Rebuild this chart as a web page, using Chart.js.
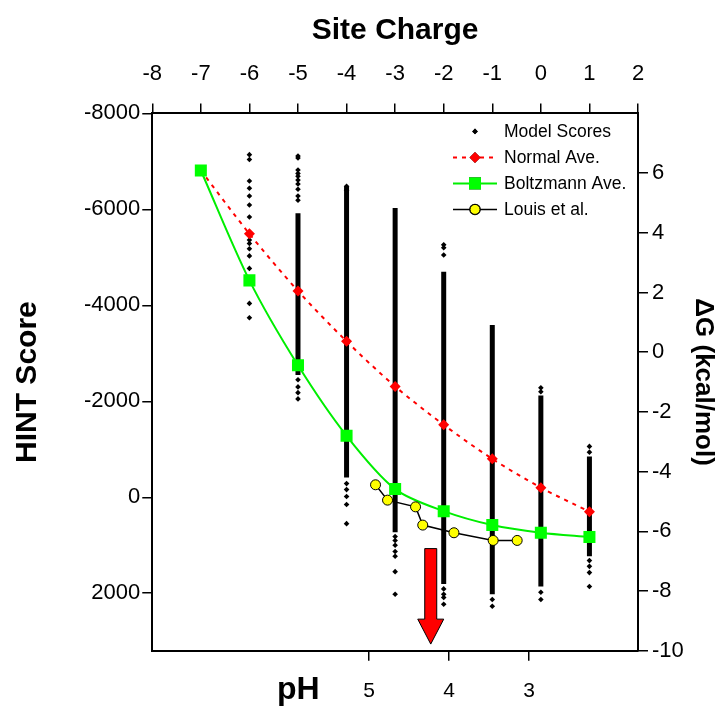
<!DOCTYPE html>
<html>
<head>
<meta charset="utf-8">
<script src="https://cdn.jsdelivr.net/npm/chart.js@4/dist/chart.umd.min.js"></script>
<style>
  html, body { margin: 0; padding: 0; background: #fff; }
  #wrap { width: 728px; height: 707px; }
</style>
</head>
<body>
<div id="wrap"><canvas id="chart" width="728" height="707"></canvas></div>
<script>
// site charge of each column
const charges = [-7, -6, -5, -4, -3, -2, -1, 0, 1];
const normalAve = [-6810, -5490, -4300, -3250, -2310, -1510, -800, -200, 300];
const boltzmannAve = [-6810, -4520, -2750, -1280, -170, 290, 580, 740, 830];

// Louis et al. (on the pH axis)
const louisPH = [4.92, 4.77, 4.42, 4.33, 3.94, 3.45, 3.15];
const louisScore = [-260, 60, 200, 580, 740, 900, 900];

// model scores: solid part of each column (top, bottom) ...
const denseTop = [null, null, -5920, -6480, -6030, -4700, -3590, -2120, -850];
const denseBottom = [null, null, -2550, -410, 730, 1810, 2020, 1860, 1230];
// ... and the single points around it
const sparseScores = [
  [-6810],
  [-7140, -7040, -6590, -6440, -6280, -6090, -5840, -5490, -5360, -5290, -5180, -5030, -4770, -4530, -4040, -3740],
  [-7110, -7070, -6820, -6750, -6690, -6610, -6530, -6420, -6280, -6190, -2450, -2300, -2180, -2050],
  [-6480, -6400, -285, -160, -15, 150, 550],
  [820, 900, 1000, 1130, 1230, 1550, 2020],
  [-5260, -5200, -5050, 1910, 2020, 2090, 2230],
  [2130, 2270],
  [-2280, -2200, 1980, 2130],
  [-1060, -940, 1320, 1440, 1570, 1860]
];

// axes
const chargeTicks = [-8, -7, -6, -5, -4, -3, -2, -1, 0, 1, 2];
const hintTicks = [-8000, -6000, -4000, -2000, 0, 2000];
const dgTicks = [-10, -8, -6, -4, -2, 0, 2, 4, 6];
const phTicks = [5, 4, 3];
const phRange = [1.64, 7.71];

// red arrow: pH position and HINT score of tail, head start and tip
const arrowPH = 4.23;
const arrowScores = [1070, 2540, 3060];

const FONT = "'Liberation Sans', Arial, Helvetica, sans-serif";
Chart.defaults.font.family = FONT;
Chart.defaults.color = "#000";

const pts = (xs, ys) => xs.map((x, i) => ({ x, y: ys[i] }));

function modelPoints(){
    const out = [];
    charges.forEach((c, i) => sparseScores[i].forEach(v => out.push({ x: c, y: v })));
    return out;
}
function denseSegments(){
    const out = [];
    charges.forEach((c, i) => {
        if(denseTop[i] === null) return;
        out.push({ x: c, y: denseTop[i] }, { x: c, y: denseBottom[i] }, { x: c, y: null });
    });
    return out;
}

const fixTicks = (list) => (ax) => { ax.ticks = list.map(v => ({ value: v })); };

function axisGrid(){
    return { drawOnChartArea: false, color: "#000", tickLength: 10, tickWidth: 1.5, lineWidth: 1.5 };
}
const axisBorder = { display: true, color: "#000", width: 2 };

/* ---- legend drawn inside the plot ---- */
const insideLegend = {
    id: "insideLegend",
    afterDraw(chart){
        const { ctx, chartArea: a } = chart;
        const rows = [
            { text: "Model Scores", ds: 3, line: false },
            { text: "Normal Ave.", ds: 2, line: true },
            { text: "Boltzmann Ave.", ds: 1, line: true },
            { text: "Louis et al.", ds: 0, line: true }
        ];
        ctx.save();
        rows.forEach((r, i) => {
            const d = chart.data.datasets[r.ds];
            const y = a.top + 18 + i * 26;
            const cx = a.right - 163;
            if(r.line){
                ctx.beginPath();
                ctx.setLineDash(d.borderDash || []);
                ctx.strokeStyle = d.borderColor;
                ctx.lineWidth = d.borderWidth;
                ctx.moveTo(a.right - 185, y);
                ctx.lineTo(a.right - 141, y);
                ctx.stroke();
                ctx.setLineDash([]);
            }
            Chart.helpers.drawPoint(ctx, {
                pointStyle: d.pointStyle,
                radius: d.pointRadius,
                borderWidth: d.pointBorderWidth || 0
            }, cx, y);
            ctx.fillStyle = d.pointBackgroundColor;
            ctx.strokeStyle = d.pointBorderColor || d.pointBackgroundColor;
            ctx.lineWidth = d.pointBorderWidth || 0;
            ctx.fill();
            if(d.pointBorderWidth) ctx.stroke();
            ctx.fillStyle = "#000";
            ctx.font = "17.5px " + FONT;
            ctx.textBaseline = "middle";
            ctx.textAlign = "left";
            ctx.fillText(r.text, a.right - 134, y + 1);
        });
        ctx.restore();
    }
};

/* ---- red arrow and pH title ---- */
const extras = {
    id: "extras",
    afterDatasetsDraw(chart){
        const { ctx } = chart;
        const xs = chart.scales.xPH, ys = chart.scales.yHint;
        const x = xs.getPixelForValue(arrowPH);
        const [y0, y1, y2] = arrowScores.map(v => ys.getPixelForValue(v));
        ctx.save();
        ctx.beginPath();
        ctx.moveTo(x - 6, y0);
        ctx.lineTo(x + 6, y0);
        ctx.lineTo(x + 6, y1);
        ctx.lineTo(x + 13, y1);
        ctx.lineTo(x, y2);
        ctx.lineTo(x - 13, y1);
        ctx.lineTo(x - 6, y1);
        ctx.closePath();
        ctx.fillStyle = "#ff0000";
        ctx.fill();
        ctx.strokeStyle = "#000";
        ctx.lineWidth = 1;
        ctx.stroke();
        ctx.restore();
    },
    afterDraw(chart){
        const { ctx, chartArea: a } = chart;
        ctx.save();
        ctx.font = "bold 32px " + FONT;
        ctx.fillStyle = "#000";
        ctx.textAlign = "center";
        ctx.textBaseline = "middle";
        ctx.fillText("pH", a.left + 146, 690);
        ctx.restore();
    }
};

new Chart(document.getElementById("chart"), {
    type: "scatter",
    data: {
        datasets: [
            {
                label: "Louis et al.",
                data: pts(louisPH, louisScore),
                xAxisID: "xPH", yAxisID: "yHint",
                showLine: true,
                borderColor: "#000", borderWidth: 1.5,
                pointStyle: "circle", pointRadius: 5,
                pointBackgroundColor: "#ffff00", pointBorderColor: "#000", pointBorderWidth: 1
            },
            {
                label: "Boltzmann Ave.",
                data: pts(charges, boltzmannAve),
                xAxisID: "xCharge", yAxisID: "yHint",
                showLine: true, tension: 0.3,
                borderColor: "#00ee00", borderWidth: 2,
                pointStyle: "rect", pointRadius: 8.5,
                pointBackgroundColor: "#00ff00", pointBorderColor: "#00ff00", pointBorderWidth: 0
            },
            {
                label: "Normal Ave.",
                data: pts(charges, normalAve),
                xAxisID: "xCharge", yAxisID: "yHint",
                showLine: true, tension: 0.3,
                borderColor: "#ff0000", borderWidth: 2, borderDash: [4, 5],
                pointStyle: "rectRot", pointRadius: 5.5,
                pointBackgroundColor: "#ff0000", pointBorderColor: "#ff0000", pointBorderWidth: 0
            },
            {
                label: "Model Scores",
                data: modelPoints(),
                xAxisID: "xCharge", yAxisID: "yHint",
                pointStyle: "rectRot", pointRadius: 2.8,
                pointBackgroundColor: "#000", pointBorderColor: "#000", pointBorderWidth: 0
            },
            {
                label: "Model Scores (dense)",
                data: denseSegments(),
                xAxisID: "xCharge", yAxisID: "yHint",
                showLine: true, spanGaps: false,
                borderColor: "#000", borderWidth: 5,
                pointRadius: 0
            }
        ]
    },
    options: {
        responsive: false,
        animation: false,
        devicePixelRatio: 1,
        layout: { padding: { left: 0, right: 0, top: 0, bottom: -15 } },
        plugins: { legend: { display: false }, tooltip: { enabled: false } },
        scales: {
            xCharge: {
                type: "linear", position: "top",
                min: -8, max: 2,
                afterBuildTicks: fixTicks(chargeTicks),
                ticks: { font: { size: 22 }, color: "#000", padding: 16, callback: v => String(v) },
                grid: axisGrid(), border: axisBorder,
                title: { display: true, text: "Site Charge", color: "#000",
                    font: { size: 30, weight: "bold" }, padding: { top: 13, bottom: -4 } }
            },
            xPH: {
                type: "linear", position: "bottom", reverse: true,
                min: phRange[0], max: phRange[1],
                afterBuildTicks: fixTicks(phTicks),
                ticks: { font: { size: 21 }, color: "#000", padding: 18, callback: v => String(v) },
                grid: axisGrid(), border: axisBorder
            },
            yHint: {
                type: "linear", position: "left", reverse: true,
                min: -8000, max: 3200,
                afterBuildTicks: fixTicks(hintTicks),
                ticks: { font: { size: 22 }, color: "#000", padding: 2, callback: v => String(v) },
                grid: axisGrid(), border: axisBorder,
                title: { display: true, text: "HINT Score", color: "#000",
                    font: { size: 30, weight: "bold" }, padding: { top: 10, bottom: 36 } }
            },
            yDG: {
                type: "linear", position: "right",
                min: -10, max: 8,
                afterBuildTicks: fixTicks(dgTicks),
                ticks: { font: { size: 22 }, color: "#000", padding: 4, callback: v => String(v) },
                grid: axisGrid(), border: axisBorder,
                title: { display: true, text: "ΔG (kcal/mol)", color: "#000",
                    font: { size: 26, weight: "bold" }, padding: { top: 9, bottom: 0 } }
            }
        }
    },
    plugins: [insideLegend, extras]
});
</script>
</body>
</html>
